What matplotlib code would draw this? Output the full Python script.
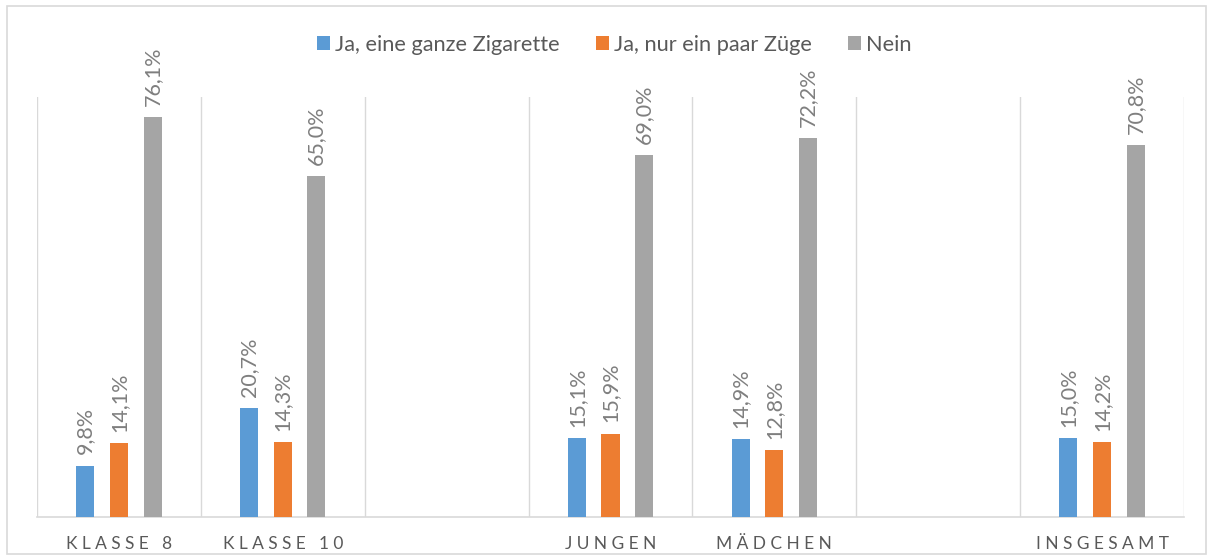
import numpy as np
import matplotlib.pyplot as plt
from matplotlib.patches import Rectangle

plt.rcParams['font.family'] = ['Lato', 'DejaVu Sans']

categories = ["KLASSE 8", "KLASSE 10", "", "JUNGEN", "MÄDCHEN", "", "INSGESAMT"]
series = ["Ja, eine ganze Zigarette", "Ja, nur ein paar Züge", "Nein"]
ganze = [9.8, 20.7, np.nan, 15.1, 14.9, np.nan, 15.0]
zuege = [14.1, 14.3, np.nan, 15.9, 12.8, np.nan, 14.2]
nein = [76.1, 65.0, np.nan, 69.0, 72.2, np.nan, 70.8]
colors = ["#5B9BD5", "#ED7D31", "#A5A5A5"]


def spaced(s):
    # Excel draws the category axis with extra letter spacing
    return "\u2005".join(s)


def graph():
    fig = plt.figure(figsize=(12.12, 5.58), dpi=100)
    ax = fig.add_axes([37 / 1212, 41 / 558, 1147 / 1212, 420 / 558])
    fig.patches.append(Rectangle((7 / 1212, 4 / 558), 1199 / 1212, 548 / 558,
                                 transform=fig.transFigure, fill=False,
                                 edgecolor="#D9D9D9", linewidth=1.2))

    x = np.arange(len(categories))
    width = 0.11
    offsets = [-0.205, 0, 0.205]
    for vals, off, col, name in zip([ganze, zuege, nein], offsets, colors, series):
        bars = ax.bar(x + off, vals, width, color=col, label=name, zorder=3)
        for b, v in zip(bars, vals):
            if np.isnan(v):
                continue
            ax.annotate(f"{v:.1f}%".replace(".", ","),
                        (b.get_x() + b.get_width() / 2, v),
                        xytext=(0, 8), textcoords="offset points",
                        rotation=90, ha="center", va="bottom",
                        fontsize=15.5, color="#7F7F7F")

    for edge in np.arange(len(categories) + 1) - 0.5:
        ax.axvline(edge, color="#D9D9D9", linewidth=1, zorder=1)

    ax.set_xlim(-0.5, len(categories) - 0.5)
    ax.set_ylim(0, 80)
    ax.set_yticks([])
    ax.set_xticks(x)
    ax.set_xticklabels([spaced(c) for c in categories], fontsize=12.5,
                       color="#595959")
    ax.tick_params(axis="x", length=0, pad=14)
    for s in ["top", "left", "right"]:
        ax.spines[s].set_visible(False)
    ax.spines["bottom"].set_color("#D9D9D9")
    ax.spines["bottom"].set_linewidth(1.2)

    ax.legend(loc="center", bbox_to_anchor=(0.5035, 1.0 + 52 / 420), ncol=3,
              frameon=False, fontsize=15.7, labelcolor="#595959",
              handlelength=0.6, handleheight=0.6, handletextpad=0.23,
              columnspacing=1.65)

    fig.savefig("out.png")


if __name__ == "__main__":
    graph()
